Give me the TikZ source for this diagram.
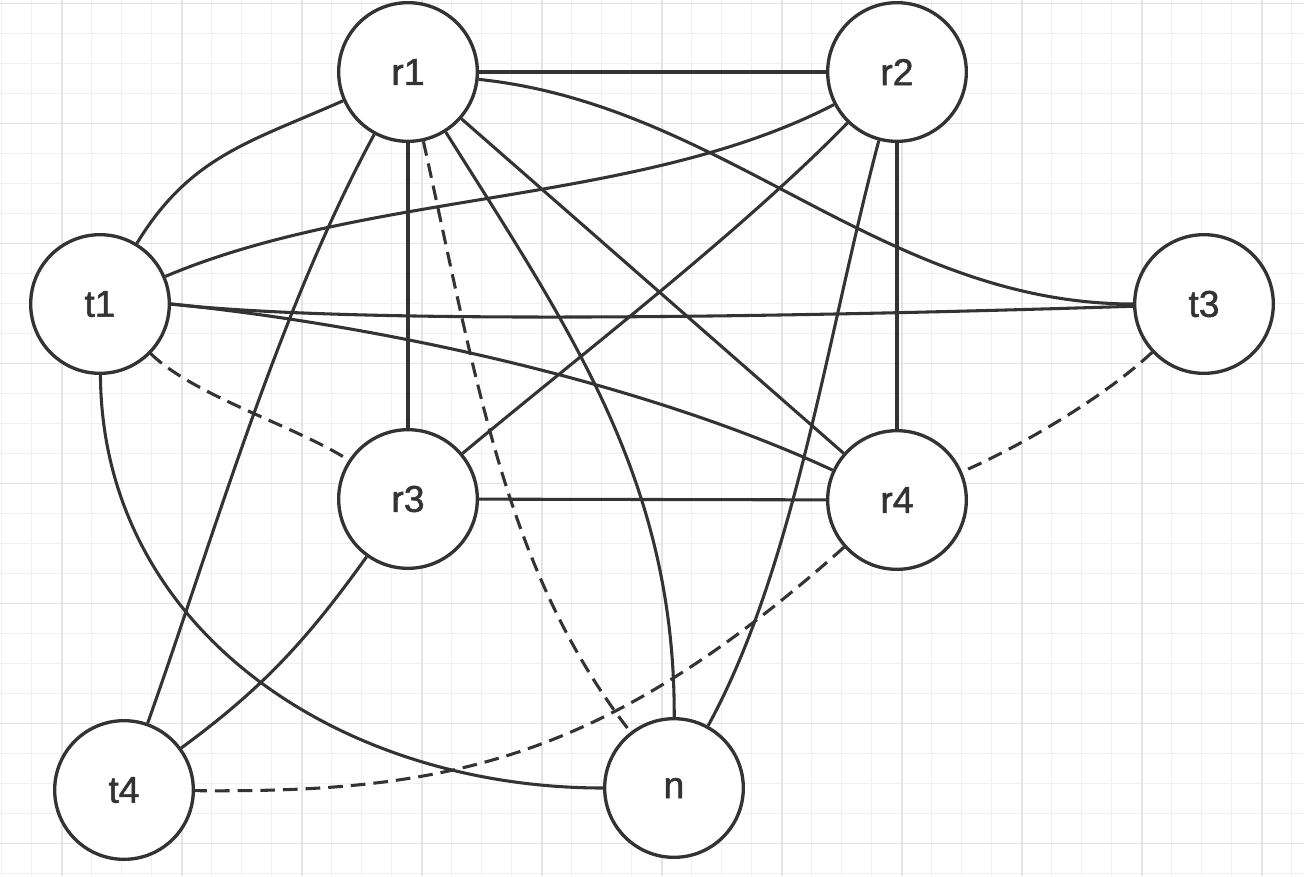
\documentclass[tikz,border=0pt]{standalone}
\usepackage{fontspec}
\setmainfont{Liberation Sans}
\newfontfamily\labelfont{Liberation Sans}[AutoFakeBold=1.3]
\usepackage{xcolor}
\definecolor{edgegray}{RGB}{51,51,51}
\definecolor{gridthin}{RGB}{240,240,240}
\definecolor{gridthick}{RGB}{228,228,228}
\tikzset{
  vertex/.style={circle,draw=edgegray,line width=2.5pt,fill=white,minimum size=104pt,
    inner sep=0pt,text=edgegray,font=\labelfont\bfseries\fontsize{28}{32}\selectfont},
  link/.style={draw=edgegray,line width=2.3pt},
  weak/.style={link,dash pattern=on 11pt off 6pt}
}

\begin{document}
\begin{tikzpicture}[x=0.75pt,y=-0.75pt]
  \useasboundingbox (0,0) rectangle (1304,876);
  \fill[white] (0,0) rectangle (1304,876);
  \foreach \x in {1.7,31.7,...,1304}{\draw[gridthin,line width=0.9pt] (\x,0) -- (\x,876);}
  \foreach \y in {3.3,33.3,...,876}{\draw[gridthin,line width=0.9pt] (0,\y) -- (1304,\y);}
  \foreach \x in {61.7,181.7,...,1304}{\draw[gridthick,line width=1.2pt] (\x,0) -- (\x,876);}
  \foreach \y in {3.3,123.3,...,876}{\draw[gridthick,line width=1.2pt] (0,\y) -- (1304,\y);}

  \foreach \name/\x/\y in {r1/408/72,r2/897/72,t1/100/304,t3/1204/304,
                           r3/408/499,r4/897/500,t4/124/790,n/674/788}{
    \node[vertex] (\name) at (\x,\y) {\name};
  }

  \foreach \a/\b in {r1/r2,r1/r3,r2/r4,r3/r4,r1/r4}{\draw[link] (\a) -- (\b);}

  \draw[link] (r1) .. controls (250,142) and (190,156) .. (t1);
  \draw[link] (r1) .. controls (278,312) and (215,533) .. (t4);
  \draw[link] (r1) .. controls (569.5,329) and (675,480) .. (n);
  \draw[weak] (r1) .. controls (477.5,385) and (506,572) .. (n);
  \draw[link] (r1) .. controls (725,105) and (883,304) .. (t3);
  \draw[link] (r2) .. controls (640,205) and (370,190) .. (t1);
  \draw[link] (r2) .. controls (742.5,230.7) and (578.5,356.5) .. (r3);
  \draw[link] (r2) .. controls (827,336) and (795,567) .. (n);
  \draw[link] (t1.east) .. controls (330,322) and (700,320) .. (t3);
  \draw[link] (t1.east) .. controls (389,326) and (649,385) .. (r4);
  \draw[weak] (t1) .. controls (194,396) and (298,427) .. (r3);
  \draw[link] (t1) .. controls (102,630) and (340,788) .. (n);
  \draw[weak] (t3) .. controls (1102,399) and (1019,447) .. (r4);
  \draw[link] (r3) .. controls (307,640) and (263,688) .. (t4);
  \draw[weak] (r4) .. controls (603,762) and (446,793) .. (t4);
\end{tikzpicture}
\end{document}
